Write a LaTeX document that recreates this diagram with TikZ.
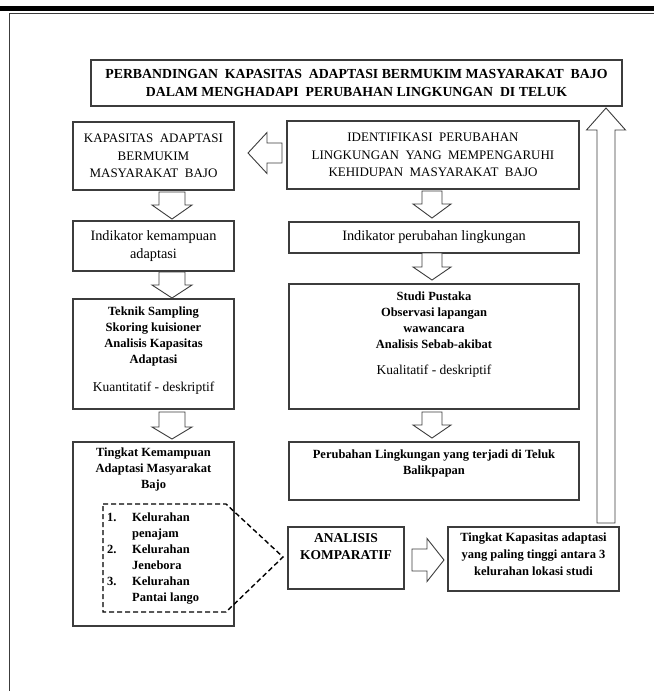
\documentclass[tikz,border=0pt]{standalone}
\usepackage{fontspec}
\setmainfont{Liberation Serif}
\definecolor{boxc}{HTML}{3C3C3C}
\newcommand\blkdn[6]{% x, shaft half, head half, y shaft end, y head base, y tip
  \draw[blk] (#1-#2,#4) -- (#1+#2,#4) -- (#1+#2,#5) -- (#1+#3,#5) -- (#1,#6) -- (#1-#3,#5) -- (#1-#2,#5) -- cycle;}
\newcommand\blklr[6]{% y, shaft half, head half, x shaft end, x head base, x tip
  \draw[blk] (#4,#1-#2) -- (#5,#1-#2) -- (#5,#1-#3) -- (#6,#1) -- (#5,#1+#3) -- (#5,#1+#2) -- (#4,#1+#2) -- cycle;}
\begin{document}
\begin{tikzpicture}[x=1pt,y=-1pt,
  box/.style={draw=boxc, line width=1.1pt, inner sep=0pt, align=center},
  txt/.style={inner sep=0pt, align=center, anchor=north},
  blk/.style={draw=boxc, line width=0.9pt, fill=white, line join=miter},
  capsf/.style={font=\fontsize{13}{17.5}\selectfont},
  boldf/.style={font=\fontsize{12.5}{16}\selectfont\bfseries},
  titf/.style={font=\fontsize{13.8}{17.5}\selectfont\bfseries}]
\useasboundingbox (0,0) rectangle (654,691);
% frame
\fill[black] (0,6) rectangle (654,11);
\draw[line width=1pt, boxc] (9.5,691) -- (9.5,13.5) -- (654,13.5);

% boxes
\node[box, titf, minimum width=531pt, minimum height=46pt] (title) at (356.5,83)
  {PERBANDINGAN\ \ KAPASITAS\ \ ADAPTASI BERMUKIM MASYARAKAT\ \ BAJO\\DALAM MENGHADAPI\ \ PERUBAHAN LINGKUNGAN\ \ DI TELUK};
\node[box, capsf, minimum width=161pt, minimum height=68pt] (kap) at (153.5,156)
  {KAPASITAS\ \ ADAPTASI\\BERMUKIM\\MASYARAKAT\ \ BAJO};
\node[box, capsf, minimum width=292pt, minimum height=68pt] (ident) at (433,155)
  {IDENTIFIKASI\ \ PERUBAHAN\\LINGKUNGAN\ \ YANG\ \ MEMPENGARUHI\\KEHIDUPAN\ \ MASYARAKAT\ \ BAJO};
\node[box, font=\fontsize{14.3}{18}\selectfont, minimum width=161pt, minimum height=50pt] (ind1) at (153.5,246)
  {Indikator kemampuan\\adaptasi};
\node[box, font=\fontsize{14.3}{18}\selectfont, minimum width=290pt, minimum height=31pt] (ind2) at (434,237.5)
  {Indikator perubahan lingkungan};
\node[box, minimum width=161pt, minimum height=110pt] (teknik) at (153.5,354) {};
\node[box, minimum width=290pt, minimum height=125pt] (studi) at (434,346.5) {};
\node[box, minimum width=161pt, minimum height=184pt] (tingkat) at (153.5,534) {};
\node[box, minimum width=290pt, minimum height=58pt] (perub) at (434,471) {};
\node[box, minimum width=116pt, minimum height=62pt] (anal) at (346,558) {};
\node[box, minimum width=171pt, minimum height=64pt] (kapas) at (533.5,559) {};

% texts inside boxes
\node[txt, boldf] (tekniktxt) at ([yshift=-8pt]teknik.north)
  {Teknik Sampling\\Skoring kuisioner\\Analisis Kapasitas\\Adaptasi\\[12pt]{\mdseries\fontsize{13.5}{16}\selectfont Kuantitatif - deskriptif}};
\node[txt, boldf] (studitxt) at ([yshift=-8.5pt]studi.north)
  {Studi Pustaka\\Observasi lapangan\\wawancara\\Analisis Sebab-akibat\\[10pt]{\mdseries\fontsize{13.5}{16}\selectfont Kualitatif - deskriptif}};
\node[txt, boldf] (perubtxt) at ([yshift=-8.5pt]perub.north)
  {Perubahan Lingkungan yang terjadi di Teluk\\Balikpapan};
\node[txt, boldf] (tingkattxt) at ([yshift=-6.5pt]tingkat.north)
  {Tingkat Kemampuan\\Adaptasi Masyarakat\\Bajo};
\node[txt, titf, font=\fontsize{13.5}{17}\selectfont\bfseries] (analtxt) at ([yshift=-6.5pt]anal.north)
  {ANALISIS\\KOMPARATIF};
\node[txt, boldf, font=\fontsize{12.5}{17}\selectfont\bfseries] (kapastxt) at ([yshift=-6.5pt]kapas.north)
  {Tingkat Kapasitas adaptasi\\yang paling tinggi antara 3\\kelurahan lokasi studi};

% list
\node[inner sep=0pt, anchor=north west, boldf, align=left] (list) at (107,510)
  {\begin{tabular}{@{}p{25pt}@{}l@{}}
   1. & Kelurahan\\ & penajam\\ 2. & Kelurahan\\ & Jenebora\\ 3. & Kelurahan\\ & Pantai lango
   \end{tabular}};
\coordinate (dtip) at (283,557);
\draw[line width=1.4pt, dash pattern=on 5pt off 3pt] (103,504) -- (226,504) -- (dtip) -- (226,612) -- (103,612) -- cycle;

% block arrows
\blklr{153}{10}{20.5}{282}{267}{248}
\blkdn{172}{13}{20}{192}{205}{219}
\blkdn{172}{13}{20}{272}{285}{298}
\blkdn{172}{13}{20}{412}{427}{439}
\blkdn{432}{10}{19}{191}{204}{218}
\blkdn{432}{10}{19}{253}{267}{280}
\blkdn{432}{10}{19}{412}{425}{438}
\blklr{560}{11}{21.5}{412}{427}{444}
\blkdn{606}{9}{19.5}{523}{130}{108}
\end{tikzpicture}
\end{document}
